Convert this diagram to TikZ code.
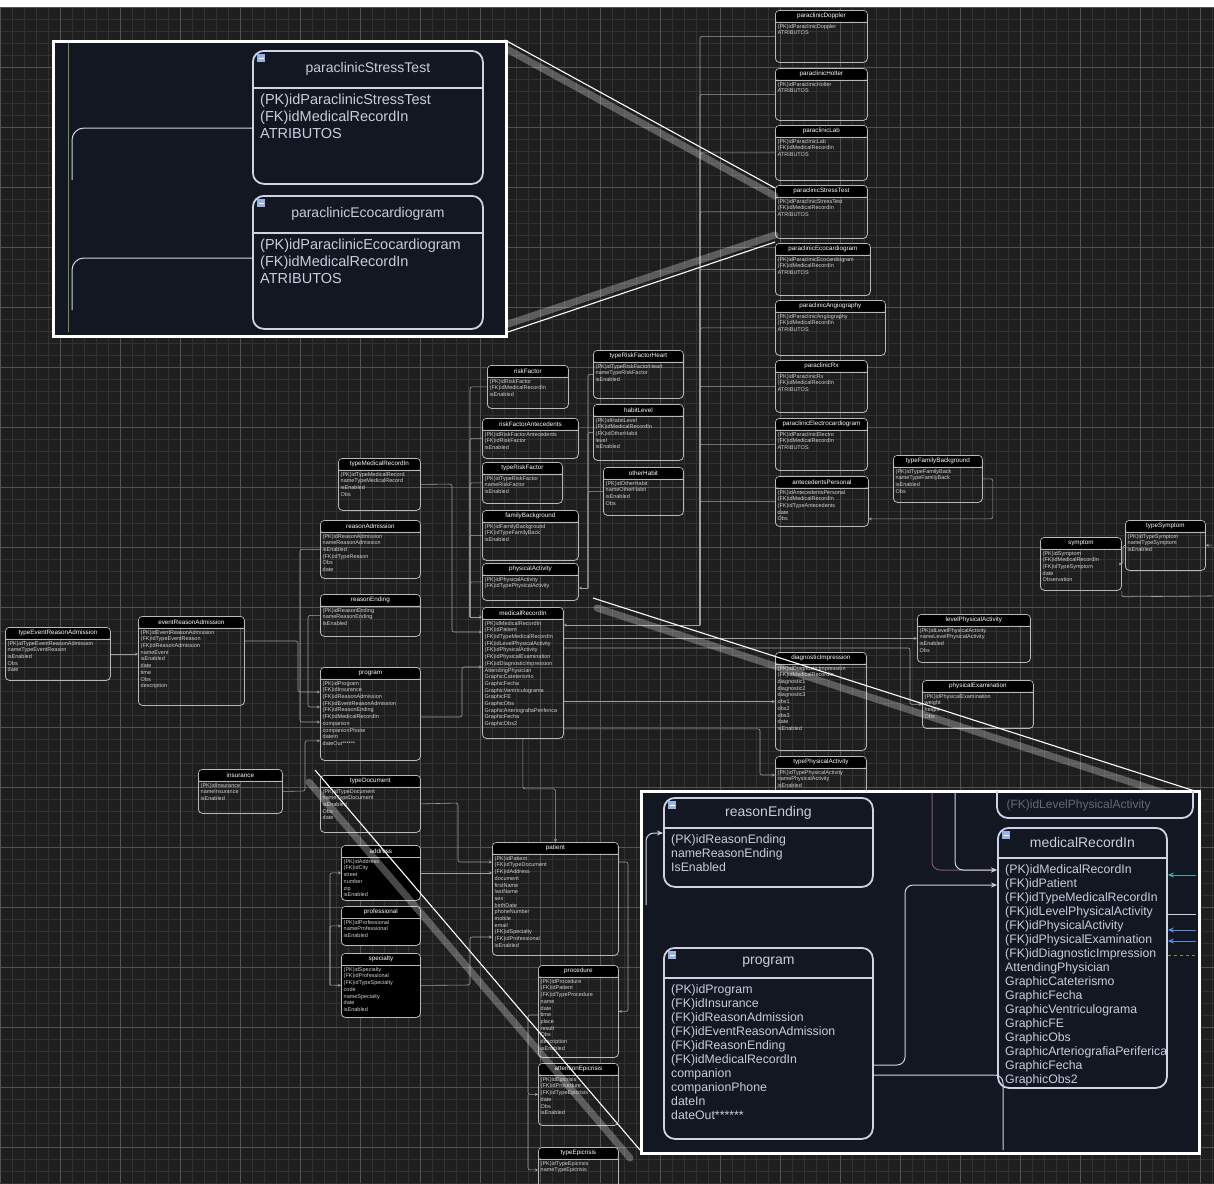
\documentclass[tikz,border=0pt]{standalone}
\usepackage{fontspec}
\setmainfont{Liberation Sans}
\usetikzlibrary{arrows.meta,calc}
\definecolor{bgc}{RGB}{30,30,30}
\definecolor{gridmin}{RGB}{50,50,50}
\definecolor{gridmaj}{RGB}{82,82,82}
\definecolor{boxc}{RGB}{185,185,185}
\definecolor{txtc}{RGB}{210,210,210}
\definecolor{connc}{RGB}{160,160,160}
\definecolor{insetbg}{RGB}{19,23,34}
\definecolor{insetbox}{RGB}{205,212,228}
\definecolor{insettxt}{RGB}{200,206,222}
\definecolor{iconc}{RGB}{150,178,230}
\definecolor{greenl}{RGB}{110,150,60}
\definecolor{bluea}{RGB}{90,140,230}
\definecolor{tealc}{RGB}{70,170,170}
\definecolor{magc}{RGB}{140,80,130}
\tikzset{
 ebox/.style={draw=boxc, line width=0.8pt, rounded corners=4pt, inner sep=0pt},
 eboxblack/.style={ebox, fill=black},
 etitle/.style={font=\fontsize{6.3}{7}\selectfont, text=white, inner sep=0pt},
 efield/.style={font=\fontsize{5.5}{6.7}\selectfont, text=txtc, inner sep=0pt, anchor=north west, align=left},
 eline/.style={draw=boxc, line width=0.6pt},
 conn/.style={draw=connc, line width=0.6pt, rounded corners=2pt},
 tip/.style={-{Stealth[length=3pt,width=3pt]}},
 bbox/.style={draw=insetbox, line width=1.8pt, rounded corners=11pt, inner sep=0pt},
 btitle/.style={font=\fontsize{14}{16}\selectfont, text=insettxt, inner sep=0pt},
 btitleL/.style={font=\fontsize{16.5}{18}\selectfont, text=insettxt, inner sep=0pt},
 bfield/.style={font=\fontsize{12.3}{14}\selectfont, text=insettxt, inner sep=0pt, anchor=north west, align=left},
 bfieldL/.style={font=\fontsize{14.5}{17}\selectfont, text=insettxt, inner sep=0pt, anchor=north west, align=left},
 inset/.style={draw=white, line width=3pt, fill=insetbg},
 beam/.style={draw=white, line width=1.1pt},
 band/.style={draw=white, line width=7pt, opacity=0.28, line cap=round},
 insconn/.style={draw=insetbox, line width=1pt, rounded corners=8pt},
 btip/.style={-{Stealth[length=6pt,width=5pt]}},
}
% small entity: [style]{name}{x}{y}{w}{h}{title}{fields}
\newcommand\erbox[8][ebox]{%
 \node[#1, minimum width=#5pt, minimum height=#6pt, anchor=north west] (#2) at (#3,#4) {};%
 \fill[black, rounded corners=2.5pt] ([shift={(1.2pt,-1.2pt)}]#2.north west) rectangle ([shift={(-1.2pt,-11.5pt)}]#2.north east);%
 \draw[eline] ([yshift=-12pt]#2.north west) -- ([yshift=-12pt]#2.north east);%
 \node[etitle] (#2-t) at ([yshift=-6.3pt]#2.north) {#7};%
 \node[efield] (#2-f) at ([shift={(2.5pt,-14pt)}]#2.north west) {#8};%
}
% big entity: [fieldstyle]{name}{x}{y}{w}{h}{header}{title}{fields}
\newcommand\bigerbox[9][bfield]{%
 \node[bbox, minimum width=#5pt, minimum height=#6pt, anchor=north west] (#2) at (#3,#4) {};%
 \draw[draw=insetbox, line width=1.2pt] ([yshift=-#7pt]#2.north west) -- ([yshift=-#7pt]#2.north east);%
 \fill[iconc] ([shift={(5pt,-4pt)}]#2.north west) rectangle ++(8pt,-8pt);%
 \draw[white, line width=0.8pt] ([shift={(6.5pt,-8pt)}]#2.north west) -- ++(5pt,0pt);%
 \node[\ifx#1bfieldL btitleL\else btitle\fi] (#2-t) at ([yshift=-#7pt/2]#2.north) {#8};%
 \node[#1] (#2-f) at ([shift={(8pt,-#7pt-6pt)}]#2.north west) {#9};%
}
\begin{document}
\begin{tikzpicture}[x=1pt,y=-1pt]
\useasboundingbox (0,0) rectangle (1214,1183);
\fill[bgc] (0,0) rectangle (1214,1183);
\fill[white] (0,0) rectangle (1214,7);
% grid
\foreach \i in {0,12,...,1214} {\draw[gridmin, line width=0.5pt] (\i,7) -- (\i,1183);}
\foreach \j in {7,19,...,1183} {\draw[gridmin, line width=0.5pt] (0,\j) -- (1214,\j);}
\foreach \i in {0,60,...,1214} {\draw[gridmaj, line width=0.6pt] (\i,7) -- (\i,1183);}
\foreach \j in {7,67,...,1183} {\draw[gridmaj, line width=0.6pt] (0,\j) -- (1214,\j);}

% ---------- entities ----------
\erbox{e1}{775}{10}{92}{52}{paraclinicDoppler}{(PK)idParaclinicDoppler\\ATRIBUTOS}
\erbox{e2}{775}{68}{92}{52}{paraclinicHolter}{(PK)idParaclinicHolter\\ATRIBUTOS}
\erbox{e3}{775}{125}{92}{55}{paraclinicLab}{(PK)idParaclinicLab\\(FK)idMedicalRecordIn\\ATRIBUTOS}
\erbox{e4}{775}{185}{92}{53}{paraclinicStressTest}{(PK)idParaclinicStressTest\\(FK)idMedicalRecordIn\\ATRIBUTOS}
\erbox{e5}{775}{243}{95}{52}{paraclinicEcocardiogram}{(PK)idParaclinicEcocardiogram\\(FK)idMedicalRecordIn\\ATRIBUTOS}
\erbox{e6}{775}{300}{110}{55}{paraclinicAngiography}{(PK)idParaclinicAngiography\\(FK)idMedicalRecordIn\\ATRIBUTOS}
\erbox{e7}{775}{360}{92}{52}{paraclinicRx}{(PK)idParaclinicRx\\(FK)idMedicalRecordIn\\ATRIBUTOS}
\erbox{e8}{775}{418}{92}{52}{paraclinicElectrocardiogram}{(PK)idParaclinicElectro\\(FK)idMedicalRecordIn\\ATRIBUTOS}
\erbox{e9}{775}{476}{93}{50}{antecedentsPersonal}{(PK)idAntecedentsPersonal\\(FK)idMedicalRecordIn\\(FK)idTypeAntecedents\\date\\Obs}
\erbox{e10}{893}{455}{89}{47}{typeFamilyBackground}{(PK)idTypeFamilyBack\\nameTypeFamilyBack\\isEnabled\\Obs}
\erbox{e11}{1040}{537}{81}{53}{symptom}{(PK)idSymptom\\(FK)idMedicalRecordIn\\(FK)idTypeSymptom\\date\\Observation}
\erbox{e12}{1125}{520}{80}{50}{typeSymptom}{(PK)idTypeSymptom\\nameTypeSymptom\\isEnabled}
\erbox{e13}{917}{614}{113}{48}{levelPhysicalActivity}{(PK)idLevelPhysicalActivity\\nameLevelPhysicalActivity\\isEnabled\\Obs}
\erbox{e14}{922}{680}{111}{48}{physicalExamination}{(PK)idPhysicalExamination\\weight\\height\\Obs}
\erbox{e15}{775}{652}{91}{98}{diagnosticImpression}{(PK)idDiagnosticImpression\\(FK)idMedicalRecordIn\\diagnostic1\\diagnostic2\\diagnostic3\\obs1\\obs2\\obs3\\date\\isEnabled}
\erbox{e16}{775}{756}{91}{60}{typePhysicalActivity}{(PK)idTypePhysicalActivity\\namePhysicalActivity\\isEnabled}

\erbox{m1}{487}{365}{81}{43}{riskFactor}{(PK)idRiskFactor\\(FK)idMedicalRecordIn\\isEnabled}
\erbox{m2}{482}{418}{96}{40}{riskFactorAntecedents}{(PK)idRiskFactorAntecedents\\(FK)idRiskFactor\\isEnabled}
\erbox{m3}{482}{462}{80}{41}{typeRiskFactor}{(PK)idTypeRiskFactor\\nameRiskFactor\\isEnabled}
\erbox{m4}{482}{510}{96}{50}{familyBackground}{(PK)idFamilyBackground\\(FK)idTypeFamilyBack\\isEnabled}
\erbox{m5}{482}{563}{96}{37}{physicalActivity}{(PK)idPhysicalActivity\\(FK)idTypePhysicalActivity}
\erbox{m6}{482}{607}{81}{131}{medicalRecordIn}{(PK)idMedicalRecordIn\\(FK)idPatient\\(FK)idTypeMedicalRecordIn\\(FK)idLevelPhysicalActivity\\(FK)idPhysicalActivity\\(FK)idPhysicalExamination\\(FK)idDiagnosticImpression\\AttendingPhysician\\GraphicCateterismo\\GraphicFecha\\GraphicVentriculograma\\GraphicFE\\GraphicObs\\GraphicArteriografiaPeriferica\\GraphicFecha\\GraphicObs2}
\erbox{m7}{593}{350}{90}{48}{typeRiskFactorHeart}{(PK)idTypeRiskFactorHeart\\nameTypeRiskFactor\\isEnabled}
\erbox{m8}{593}{404}{90}{56}{habitLevel}{(PK)idHabitLevel\\(FK)idMedicalRecordIn\\(FK)idOtherHabit\\level\\isEnabled}
\erbox{m9}{603}{467}{80}{48}{otherHabit}{(PK)idOtherHabit\\nameOtherHabit\\isEnabled\\Obs}

\erbox{l1}{338}{458}{82}{52}{typeMedicalRecordIn}{(PK)idTypeMedicalRecord\\nameTypeMedicalRecord\\isEnabled\\Obs}
\erbox{l2}{320}{520}{100}{58}{reasonAdmission}{(PK)idReasonAdmission\\nameReasonAdmission\\isEnabled\\(FK)idTypeReason\\Obs\\date}
\erbox{l3}{320}{594}{100}{42}{reasonEnding}{(PK)idReasonEnding\\nameReasonEnding\\IsEnabled}
\erbox{l4}{320}{667}{100}{93}{program}{(PK)idProgram\\(FK)idInsurance\\(FK)idReasonAdmission\\(FK)idEventReasonAdmission\\(FK)idReasonEnding\\(FK)idMedicalRecordIn\\companion\\companionPhone\\dateIn\\dateOut******}
\erbox{l5}{320}{775}{100}{57}{typeDocument}{(PK)idTypeDocument\\nameTypeDocument\\isEnabled\\Obs\\date}
\erbox{l6}{5}{627}{105}{53}{typeEventReasonAdmission}{(PK)idTypeEventReasonAdmission\\nameTypeEventReason\\isEnabled\\Obs\\date}
\erbox{l7}{138}{616}{106}{89}{eventReasonAdmission}{(PK)idEventReasonAdmission\\(FK)idTypeEventReason\\(FK)idReasonAdmission\\nameEvent\\isEnabled\\date\\time\\Obs\\description}
\erbox{l8}{198}{769}{84}{44}{insurance}{(PK)idInsurance\\nameInsurance\\isEnabled}
\erbox[eboxblack]{l9}{341}{845}{79}{55}{address}{(PK)idAddress\\(FK)idCity\\street\\number\\zip\\isEnabled}
\erbox[eboxblack]{l10}{341}{906}{79}{39}{professional}{(PK)idProfessional\\nameProfessional\\isEnabled}
\erbox[eboxblack]{l11}{341}{953}{79}{64}{specialty}{(PK)idSpecialty\\(FK)idProfessional\\(FK)idTypeSpecialty\\code\\nameSpecialty\\date\\isEnabled}

\erbox{p1}{492}{842}{126}{113}{patient}{(PK)idPatient\\(FK)idTypeDocument\\(FK)idAddress\\document\\firstName\\lastName\\sex\\birthDate\\phoneNumber\\mobile\\email\\(FK)idSpecialty\\(FK)idProfessional\\isEnabled}
\erbox{p2}{538}{965}{80}{92}{procedure}{(PK)idProcedure\\(FK)idPatient\\(FK)idTypeProcedure\\name\\date\\time\\place\\result\\Obs\\description\\isEnabled}
\erbox{p3}{538}{1063}{80}{62}{attentionEpicrisis}{(PK)idEpicrisis\\(FK)idProcedure\\(FK)idTypeEpicrisis\\date\\Obs\\isEnabled}
\erbox{p4}{538}{1147}{80}{45}{typeEpicrisis}{(PK)idTypeEpicrisis\\nameTypeEpicrisis}

% ---------- connectors ----------
\coordinate (trk) at (700,625);
\foreach \n in {e1,e2,e3,e4,e5,e6,e7,e8,e9} {\draw[conn] (\n.west) -| (trk);}
\draw[conn,tip] (trk) -- (m6.east |- trk);
\draw[conn,tip] (e10.east) -- ++(10,0) |- ($(e9.south east)+(0,-8)$);
\draw[conn,tip] (e12.west) -- ++(-2,0) |- (e11.east);
\draw[conn] (e11.south east) -- ++(0,6) -- (1212,596);
\draw[conn,tip] (1212,545) -- (e12.east);
\draw[conn,tip] (m6.east |- e13.west) -- (e13.west);
\draw[conn,tip] (m6.east |- e15.west) -- (e15.west);
\draw[conn,tip] ($(m6.north east)+(0,41)$) -| ($(e14.west)+(-12,0)$) -- (e14.west);
\draw[conn,tip] ($(m6.south east)+(0,-10)$) -| (760,775) -- ($(e16.north west)+(0,19)$);
\draw[conn,tip] (l6.east) -- (l6.east -| l7.west);
\draw[conn,tip] ($(l7.north east)+(0,25)$) -- (298,641) |- ($(l4.north west)+(0,25)$);
\draw[conn,tip] (l8.east) -- (305,791) |- ($(l4.south west)+(0,-20)$);
\draw[conn,tip] (l3.west) -- ++(-12,0) |- ($(l4.north west)+(0,40)$);
\draw[conn,tip] (l2.west) -- ++(-20,0) |- ($(l4.north west)+(0,55)$);
\draw[conn,tip] (l1.east) -- (452,484) |- ($(m6.north west)+(0,25)$);
\draw[conn,tip] ($(l4.north east)+(0,50)$) -- (462,717) |- ($(m6.north west)+(0,60)$);
\coordinate (tl) at (470,617);
\foreach \n in {m1,m2,m3,m4,m5} {\draw[conn] (\n.west) -| (tl);}
\draw[conn,tip] (tl) -- (tl -| m6.west);
\coordinate (tr2) at (588,588);
\foreach \n in {m7,m8,m9} {\draw[conn] (\n.west) -| (tr2);}
\draw[conn,tip] (tr2) -- (tr2 -| m5.east);
\draw[conn,tip] (l5.east) -- (458,803) |- ($(p1.north west)+(0,20)$);
\coordinate (tl3) at (330,985);
\draw[conn,tip] (tl3) |- (l9.west);
\draw[conn,tip] (tl3) |- (l10.west);
\draw[conn,tip] (tl3) -- (l11.west);
\draw[conn,tip] (l11.east) -- (470,985) |- ($(p1.north west)+(0,95)$);
\draw[conn,tip] (l9.east) -- (l9.east -| p1.west);
\draw[conn,tip] ($(p1.north east)+(0,20)$) -- (628,862) |- (p2.east);
\draw[conn,tip] ($(p2.north west)+(0,50)$) -- (528,1015) |- (p3.west);
\draw[conn,tip] ($(p3.west)+(-10,0)$) |- (p4.west);
\draw[conn,tip] (m6.south) -- ++(0,50) -| (p1.north);

% ---------- zoom beams ----------
\coordinate (b1a) at (505,40);  \coordinate (b1b) at (775,188);
\coordinate (b2a) at (505,333); \coordinate (b2b) at (775,242);
\coordinate (b3a) at (593,598); \coordinate (b3b) at (1198,792);
\coordinate (b4a) at (315,770); \coordinate (b4b) at (640,1150);
\draw[band] ($(b1a)+(0,8)$) -- ($(b1b)+(0,8)$);
\draw[beam] (b1a) -- (b1b);
\draw[band] ($(b2a)+(0,-8)$) -- ($(b2b)+(0,-7)$);
\draw[beam] (b2a) -- (b2b);
\draw[band] ($(b3a)+(4,10)$) -- ($(b3b)+(0,12)$);
\draw[beam] (b3a) -- (b3b);
\draw[band] ($(b4a)+(-6,12)$) -- ($(b4b)+(-10,8)$);
\draw[beam] (b4a) -- (b4b);

% ---------- top-left inset ----------
\node[inset, minimum width=453pt, minimum height=295pt, anchor=north west, inner sep=0pt] (insA) at (52,40) {};
\draw[greenl, line width=1pt] (68,43) -- (68,332);
\bigerbox[bfieldL]{st}{252}{50}{230}{133}{38}{paraclinicStressTest}{(PK)idParaclinicStressTest\\(FK)idMedicalRecordIn\\ATRIBUTOS}
\bigerbox[bfieldL]{eco}{252}{195}{230}{133}{38}{paraclinicEcocardiogram}{(PK)idParaclinicEcocardiogram\\(FK)idMedicalRecordIn\\ATRIBUTOS}
\coordinate (ia1) at (72,180);
\coordinate (ia2) at (72,310);
\draw[insconn, rounded corners=12pt] (ia1) |- ($(st.north west)+(0,78)$);
\draw[insconn, rounded corners=12pt] (ia2) |- ($(eco.north west)+(0,63)$);

% ---------- bottom-right inset ----------
\node[inset, minimum width=558pt, minimum height=362pt, anchor=north west, inner sep=0pt] (insB) at (640,790) {};
\begin{scope}
\clip (641.5,791.5) rectangle (1196.5,1151.5);
\draw[bbox] (997,760) rectangle (1193,818);
\node[font=\fontsize{12}{14}\selectfont, text=insettxt, opacity=0.45, anchor=west] (ptxt) at (1003,805) {(FK)idLevelPhysicalActivity};
\end{scope}
\bigerbox{re}{663}{797}{209}{89}{31}{reasonEnding}{(PK)idReasonEnding\\nameReasonEnding\\IsEnabled}
\bigerbox{prog}{663}{947}{209}{191}{31}{program}{(PK)idProgram\\(FK)idInsurance\\(FK)idReasonAdmission\\(FK)idEventReasonAdmission\\(FK)idReasonEnding\\(FK)idMedicalRecordIn\\companion\\companionPhone\\dateIn\\dateOut******}
\bigerbox{mri}{997}{827}{169}{260}{31}{medicalRecordIn}{(PK)idMedicalRecordIn\\(FK)idPatient\\(FK)idTypeMedicalRecordIn\\(FK)idLevelPhysicalActivity\\(FK)idPhysicalActivity\\(FK)idPhysicalExamination\\(FK)idDiagnosticImpression\\AttendingPhysician\\GraphicCateterismo\\GraphicFecha\\GraphicVentriculograma\\GraphicFE\\GraphicObs\\GraphicArteriografiaPeriferica\\GraphicFecha\\GraphicObs2}
\coordinate (bi1) at (932,793);
\coordinate (bi2) at (955,793);
\draw[insconn, draw=magc, btip] (bi1) |- ($(mri.north west)+(0,43)$);
\draw[insconn, btip] (bi2) |- ($(mri.north west)+(0,43)$);
\draw[insconn, btip] ($(prog.north east)+(0,118)$) -- (905,1065) |- ($(mri.north west)+(0,58)$);
\coordinate (bi3) at (1003,1150);
\draw[insconn] ($(prog.north east)+(0,128)$) -| (bi3);
\coordinate (bi4) at (1196,875);
\coordinate (bi5) at (1196,914);
\coordinate (bi6) at (1196,930);
\coordinate (bi7) at (1196,941);
\coordinate (bi8) at (1196,955);
\draw[tealc, line width=1pt, btip] (bi4) -- ($(mri.north east)+(0,48)$);
\draw[insetbox, line width=1pt] ($(mri.north east)+(0,87)$) -- (bi5);
\draw[bluea, line width=1pt, btip] (bi6) -- ($(mri.north east)+(0,103)$);
\draw[bluea, line width=1pt, btip] (bi7) -- ($(mri.north east)+(0,114)$);
\draw[greenl, line width=1pt, dashed] ($(mri.north east)+(0,128)$) -- (bi8);
\coordinate (bi9) at (646,905);
\draw[insconn, btip] (bi9) |- ($(re.north west)+(0,36)$);
\end{tikzpicture}
\end{document}
